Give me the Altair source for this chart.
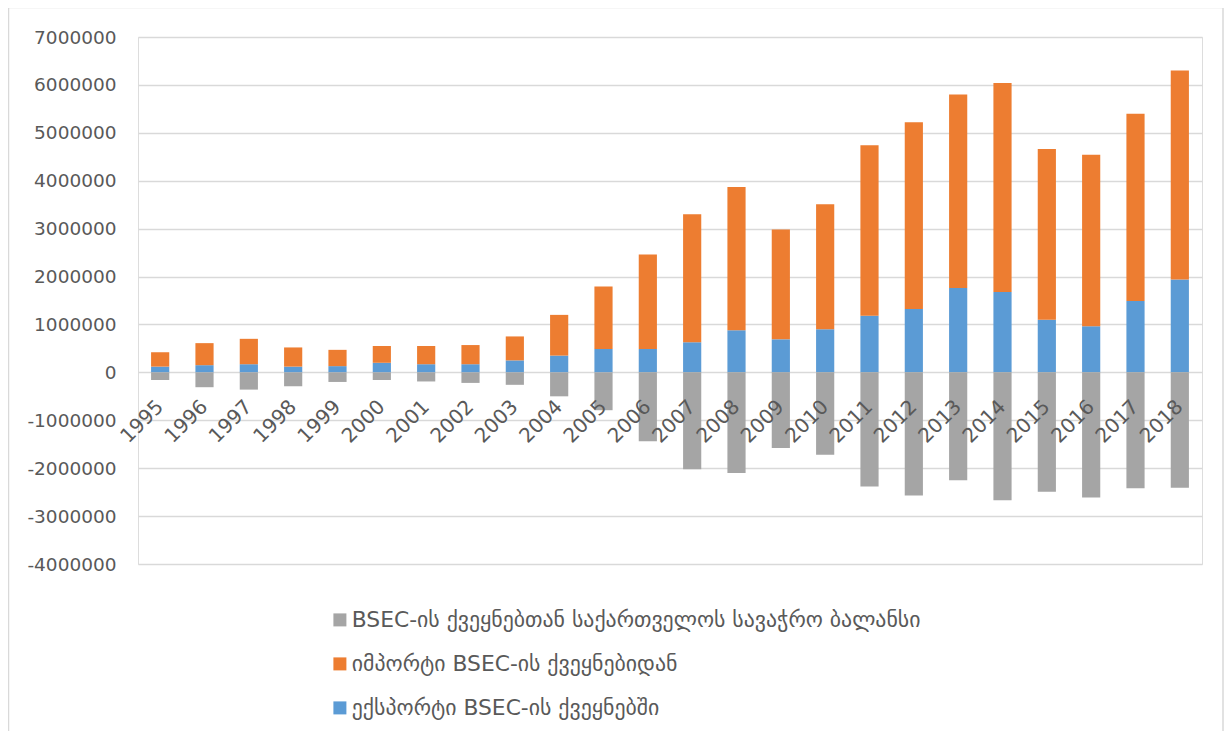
import altair as alt
import pandas as pd

years = [str(y) for y in range(1995, 2019)]
export_vals = [120000, 150000, 170000, 120000, 130000, 200000, 170000, 170000, 250000, 350000,
               490000, 490000, 630000, 880000, 690000, 900000, 1180000, 1320000, 1760000, 1680000,
               1100000, 960000, 1490000, 1940000]
import_vals = [300000, 460000, 530000, 400000, 340000, 350000, 380000, 400000, 500000, 850000,
               1300000, 1970000, 2670000, 2990000, 2290000, 2610000, 3560000, 3900000, 4040000, 4360000,
               3560000, 3580000, 3910000, 4360000]
balance_vals = [-160000, -310000, -360000, -290000, -200000, -160000, -190000, -220000, -260000, -500000,
                -790000, -1440000, -2020000, -2100000, -1580000, -1720000, -2380000, -2570000, -2250000, -2670000,
                -2490000, -2610000, -2420000, -2410000]

s_bal = "BSEC-ის ქვეყნებთან საქართველოს სავაჭრო ბალანსი"
s_imp = "იმპორტი BSEC-ის ქვეყნებიდან"
s_exp = "ექსპორტი BSEC-ის ქვეყნებში"
y_ticks = [7000000, 6000000, 5000000, 4000000, 3000000, 2000000, 1000000, 0,
           -1000000, -2000000, -3000000, -4000000]

rows = []
for i, yr in enumerate(years):
    rows.append({"year": yr, "series": s_exp, "value": export_vals[i], "ord": 0})
    rows.append({"year": yr, "series": s_imp, "value": import_vals[i], "ord": 1})
    rows.append({"year": yr, "series": s_bal, "value": balance_vals[i], "ord": 2})
df = pd.DataFrame(rows)

W, H = 1064, 527
FONT = "DejaVu Sans"
TXT = "#595959"

bars = alt.Chart(df).mark_bar(strokeWidth=0).encode(
    x=alt.X("year:N", sort=years, title=None,
            scale=alt.Scale(paddingInner=0.59, paddingOuter=0.295),
            axis=alt.Axis(labelAngle=-45, labelAlign="right", labelBaseline="middle",
                          domain=False, ticks=False, grid=False, labelPadding=31,
                          offset=-H * 4 / 11, labelFontSize=20, labelColor=TXT,
                          labelFont=FONT, zindex=1)),
    y=alt.Y("value:Q", stack="zero", title=None,
            scale=alt.Scale(domain=[-4000000, 7000000], nice=False),
            axis=alt.Axis(values=y_ticks, labelExpr="datum.value + ''", domain=False, ticks=False,
                          gridColor="#d9d9d9", gridWidth=1.3, labelPadding=22,
                          labelFontSize=18.5, labelColor=TXT, labelFont=FONT)),
    color=alt.Color("series:N",
                    scale=alt.Scale(domain=[s_bal, s_imp, s_exp],
                                    range=["#A5A5A5", "#ED7D31", "#5B9BD5"]),
                    legend=alt.Legend(title=None, orient="none", legendX=191, legendY=572,
                                      direction="vertical", symbolType="square",
                                      symbolSize=169, symbolStrokeWidth=0,
                                      labelFontSize=21.8, labelColor=TXT, labelFont=FONT,
                                      labelOffset=1, rowPadding=21, padding=0,
                                      labelLimit=900)),
    order=alt.Order("ord:Q"),
)

frame = alt.Chart(pd.DataFrame({"a": [0]})).mark_rect(
    fill="transparent", stroke="#d9d9d9", strokeWidth=1.5
).encode(
    x=alt.value(-129.5), x2=alt.value(W + 21), y=alt.value(-29.5), y2=alt.value(H + 200)
)

chart = alt.layer(frame, bars).properties(
    width=W, height=H,
    autosize=alt.AutoSizeParams(type="none"),
    padding={"left": 130, "top": 29, "right": 22, "bottom": 167},
).configure_view(strokeWidth=0).configure(background="white")

chart.save("out.html", embed_options={"renderer": "svg", "actions": False})
